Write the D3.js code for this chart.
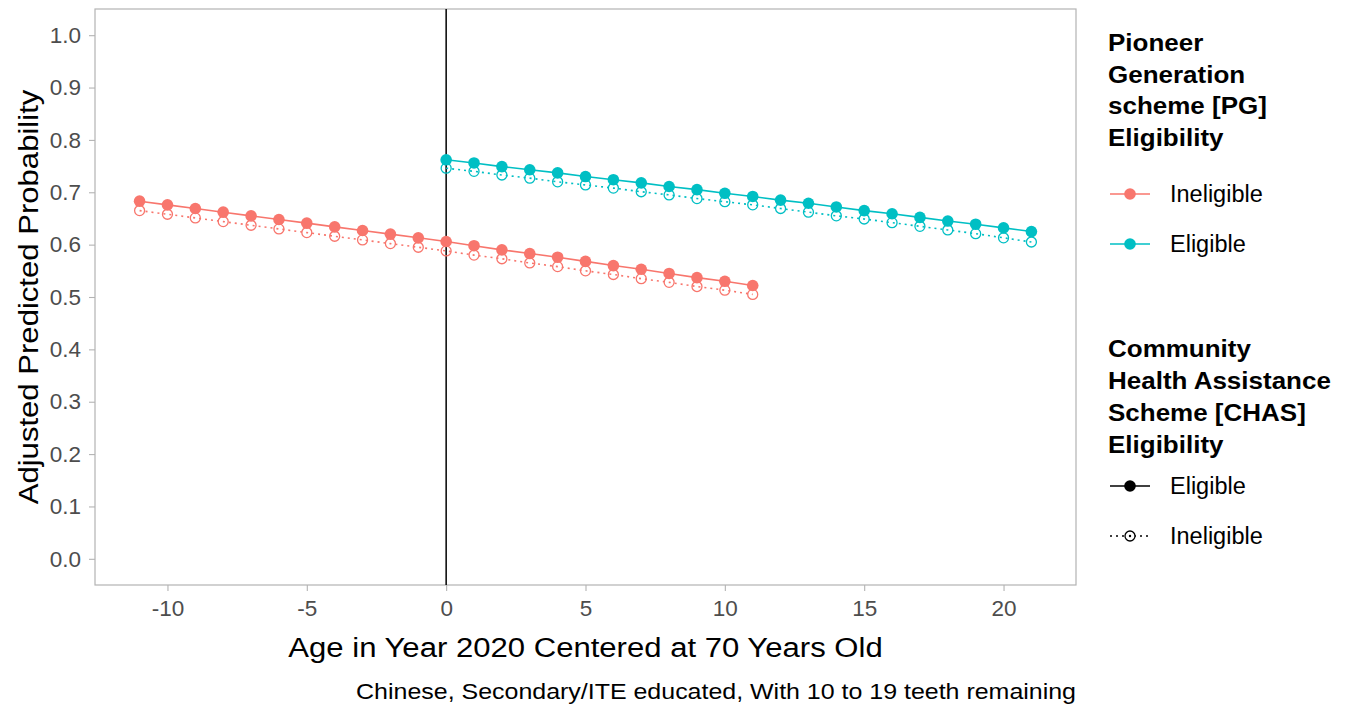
<!DOCTYPE html>
<html><head><meta charset="utf-8">
<script src="https://cdn.jsdelivr.net/npm/d3@7"></script>
<style>body{margin:0;background:#fff;} svg{display:block;font-family:"Liberation Sans",Arial,sans-serif;}</style>
</head><body>
<script>
// Data
const xIneligiblePG = d3.range(-11, 12); // -11..11
const xEligiblePG = d3.range(0, 22);     // 0..21
const ineligPG_chasElig = [0.683,0.676,0.669,0.662,0.655,0.648,0.641,0.634,0.627,0.620,0.613,0.606,0.598,0.590,0.583,0.576,0.568,0.560,0.553,0.545,0.537,0.530,0.522];
const ineligPG_chasInelig = [0.665,0.658,0.651,0.644,0.637,0.630,0.623,0.616,0.609,0.602,0.595,0.588,0.580,0.573,0.565,0.558,0.550,0.543,0.535,0.528,0.520,0.513,0.505];
const eligPG_chasElig = [0.762,0.756,0.749,0.743,0.737,0.730,0.724,0.718,0.711,0.705,0.698,0.692,0.685,0.679,0.672,0.665,0.659,0.652,0.645,0.639,0.632,0.625];
const eligPG_chasInelig = [0.746,0.740,0.733,0.727,0.720,0.714,0.708,0.701,0.695,0.688,0.682,0.676,0.669,0.662,0.655,0.649,0.642,0.635,0.628,0.621,0.613,0.605];
const xTicks = [-10,-5,0,5,10,15,20];
const yTicks = [0,0.1,0.2,0.3,0.4,0.5,0.6,0.7,0.8,0.9,1.0];
const pgLevels = ["Ineligible","Eligible"];
const chasLevels = ["Eligible","Ineligible"];
const pgColors = ["#F8766D","#00BFC4"];

const W=1349,H=706;
const L=95,R=1076,T=9,B=585;
const svg=d3.select("body").append("svg").attr("width",W).attr("height",H);
const x=d3.scaleLinear().domain([-12.6,22.6]).range([L,R]);
const y=d3.scaleLinear().domain([-0.05,1.05]).range([B,T]);

// axes
const gx=svg.append("g").attr("transform",`translate(0,${B})`)
  .call(d3.axisBottom(x).tickValues(xTicks).tickSize(6).tickPadding(5).tickFormat(d=>d));
const gy=svg.append("g").attr("transform",`translate(${L},0)`)
  .call(d3.axisLeft(y).tickValues(yTicks).tickSize(6).tickPadding(8).tickFormat(d3.format(".1f")));
[gx,gy].forEach(g=>{g.select(".domain").remove();
  g.selectAll(".tick line").attr("stroke","#b3b3b3").attr("stroke-width",1.1);
  g.selectAll(".tick text").attr("fill","#4d4d4d").style("font-size","22.5px").style("font-family","'Liberation Sans',Arial,sans-serif");});
gx.selectAll(".tick text").attr("dy","0.9em");

// panel border
svg.append("rect").attr("x",L).attr("y",T).attr("width",R-L).attr("height",B-T)
  .attr("fill","none").attr("stroke","#b3b3b3").attr("stroke-width",1.2);

// vline at 0
svg.append("line").attr("x1",x(0)).attr("x2",x(0)).attr("y1",T).attr("y2",B)
  .attr("stroke","#000").attr("stroke-width",1.5);

const series=[
 {xs:xIneligiblePG, ys:ineligPG_chasInelig, col:pgColors[0], solid:false},
 {xs:xEligiblePG, ys:eligPG_chasInelig, col:pgColors[1], solid:false},
 {xs:xIneligiblePG, ys:ineligPG_chasElig, col:pgColors[0], solid:true},
 {xs:xEligiblePG, ys:eligPG_chasElig, col:pgColors[1], solid:true},
];
const line=d3.line().x(d=>x(d[0])).y(d=>y(d[1]));
series.forEach(s=>{
  const pts=s.xs.map((v,i)=>[v,s.ys[i]]);
  svg.append("path").datum(pts).attr("d",line).attr("fill","none").attr("stroke",s.col)
    .attr("stroke-width",1.6).attr("stroke-dasharray",s.solid?null:"2,4");
  svg.append("g").selectAll("circle").data(pts).join("circle")
    .attr("cx",d=>x(d[0])).attr("cy",d=>y(d[1])).attr("r",s.solid?5.8:5)
    .attr("fill",s.solid?s.col:"none").attr("stroke",s.col).attr("stroke-width",s.solid?0:1.3);
});

function stext(px,py,sx,size,anchor,str,extra){
  const t=svg.append("text").attr("transform",`translate(${px},${py}) ${extra||""} scale(${sx},1)`)
    .attr("text-anchor",anchor).style("font-size",size+"px").attr("fill","#000").text(str);
  return t;
}
// axis titles
stext((L+R)/2,657,1.11,28,"middle","Age in Year 2020 Centered at 70 Years Old");
stext(38,(T+B)/2,1.11,28,"middle","Adjusted Predicted Probability","rotate(-90)");
stext(R,699,1.135,22,"end","Chinese, Secondary/ITE educated, With 10 to 19 teeth remaining");

// legends
const lx=1108;
function title(lines,y0,step){
  lines.forEach((t,i)=>stext(lx,y0+i*step,1.13,23,"start",t).style("font-weight","bold"));
}
title(["Pioneer","Generation","scheme [PG]","Eligibility"],51,31.5);
pgLevels.forEach((lab,i)=>{
  const cy=194+i*50;
  svg.append("line").attr("x1",1110).attr("x2",1150).attr("y1",cy).attr("y2",cy).attr("stroke",pgColors[i]).attr("stroke-width",1.6);
  svg.append("circle").attr("cx",1130).attr("cy",cy).attr("r",5.8).attr("fill",pgColors[i]);
  svg.append("text").attr("x",1170).attr("y",cy+8).style("font-size","23.5px").attr("fill","#000").text(lab);
});
title(["Community","Health Assistance","Scheme [CHAS]","Eligibility"],357,32);
chasLevels.forEach((lab,i)=>{
  const cy=486+i*50;
  svg.append("line").attr("x1",1110).attr("x2",1150).attr("y1",cy).attr("y2",cy).attr("stroke","#000")
    .attr("stroke-width",1.6).attr("stroke-dasharray",i===0?null:"2,4");
  svg.append("circle").attr("cx",1130).attr("cy",cy).attr("r",i===0?5.8:5)
    .attr("fill",i===0?"#000":"#fff").attr("stroke","#000").attr("stroke-width",i===0?0:1.3);
  if(i===1) svg.append("circle").attr("cx",1130).attr("cy",cy).attr("r",1.2).attr("fill","#000");
  svg.append("text").attr("x",1170).attr("y",cy+8).style("font-size","23.5px").attr("fill","#000").text(lab);
});
</script>
</body></html>
